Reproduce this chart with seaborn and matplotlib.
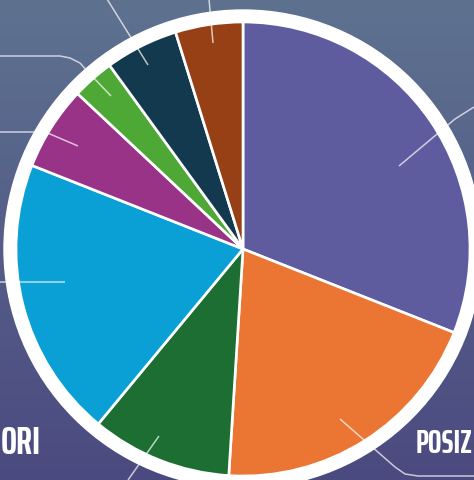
import matplotlib
matplotlib.use("Agg")
import matplotlib.pyplot as plt
import numpy as np
import seaborn as sns
from matplotlib.patches import Circle

sns.set_style("white")

# slices clockwise from 12 o'clock (share in %)
shares = [31, 20, 10, 20, 6, 3, 5.2, 4.8]
colors = ["#5e5c9e", "#eb7532", "#1c6e33", "#0aa0d6",
          "#993388", "#4ea836", "#12394d", "#974015"]
left_label = "ORI"
right_label = "POSIZ"

W, H = 474, 481
fig = plt.figure(figsize=(W / 100, H / 100), dpi=100)
ax = fig.add_axes([0, 0, 1, 1])

# background gradient
grad = np.linspace(0, 1, 256).reshape(-1, 1)
cmap = matplotlib.colors.LinearSegmentedColormap.from_list("bg", ["#4b4a80", "#5e7290"])
ax.imshow(grad, extent=[0, W, 0, H], origin="lower", cmap=cmap, aspect="auto", zorder=0)

cx, cy, R = 243, H - 250, 227
ax.add_patch(Circle((cx, cy), R + 12, color="white", zorder=1))
ax.pie(shares, colors=colors, startangle=90, counterclock=False,
       center=(cx, cy), radius=R, frame=True,
       wedgeprops=dict(edgecolor="white", linewidth=1.9, zorder=2))
ax.set_xlim(0, W)
ax.set_ylim(0, H)
ax.set_aspect("auto")
ax.axis("off")

# leader lines (pixel coords, top-down y)
def leader(pts):
    pts = np.array(pts, dtype=float)
    ax.plot(pts[:, 0], H - pts[:, 1], color="white", alpha=0.7, lw=1.1,
            zorder=3, solid_capstyle="butt")

leader([(213, 44), (209, 0)])
leader([(148, 66), (107, 0)])
leader([(111, 97), (88, 73), (80, 64), (70, 59), (60, 57), (0, 57)])
leader([(78, 147), (50, 135), (44, 133), (0, 133)])
leader([(65, 283), (0, 283)])
leader([(399, 167), (455, 120), (474, 108)])
leader([(159, 437), (128, 481)])
leader([(340, 420), (395, 468), (405, 475), (418, 477), (474, 477)])

fam = ["Saira ExtraCondensed", "DejaVu Sans"]
tl = ax.text(41, H - 444, left_label, ha="right", va="center", zorder=4,
             family=fam, weight="bold", size=28, color="white")
tr = ax.text(416, H - 444, right_label, ha="left", va="center", zorder=4,
             family=fam, weight="bold", size=28, color="white")

# shrink the labels if they run past the picture edge
fig.canvas.draw()
r = fig.canvas.get_renderer()
bb = tl.get_window_extent(r)
if bb.x0 < 1:
    tl.set_fontsize(tl.get_fontsize() * (bb.x1 - 1) / bb.width)
bb = tr.get_window_extent(r)
if bb.x1 > W - 1:
    tr.set_fontsize(tr.get_fontsize() * (W - 1 - bb.x0) / bb.width)

fig.savefig("out.png", dpi=100)
